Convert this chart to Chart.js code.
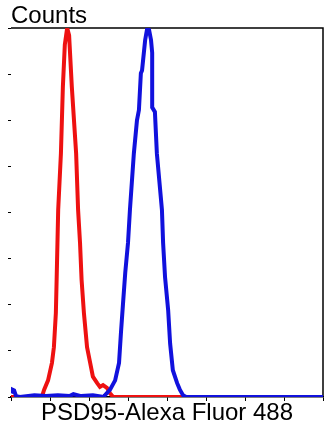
<!DOCTYPE html>
<html>
<head>
<meta charset="utf-8">
<script src="https://cdn.jsdelivr.net/npm/chart.js@4/dist/chart.umd.min.js"></script>
<style>
  html, body { margin: 0; padding: 0; background: #fff; }
  #wrap { width: 331px; height: 427px; }
</style>
</head>
<body>
<div id="wrap"><canvas id="histo"></canvas></div>
<script>
// isotype control (red) and PSD95 stained cells (blue)
const redX = [0, 0.79, 0.85, 0.95, 1.05, 1.10, 1.15, 1.17, 1.21, 1.28, 1.33, 1.38, 1.44, 1.49, 1.56, 1.67, 1.72, 1.77, 1.81, 1.87, 1.95, 2.03, 2.10, 2.21, 2.28, 2.36, 2.46, 2.54, 2.62, 8]
const redY = [0, 0, 8, 18, 37, 54, 91, 127, 203, 264, 336, 382, 400, 392, 336, 264, 203, 167, 127, 91, 54, 37, 22, 15, 11, 13, 10, 4, 0, 0]

const blueX = [0, 0.03, 0.08, 0.13, 0.23, 0.6, 0.9, 1.2, 1.5, 1.6, 1.8, 2.1, 2.38, 2.41, 2.54, 2.67, 2.77, 2.82, 2.87, 2.93, 3.0, 3.05, 3.15, 3.23, 3.28, 3.33, 3.36, 3.44, 3.49, 3.54, 3.59, 3.62, 3.62, 3.69, 3.74, 3.87, 3.90, 3.95, 4.03, 4.08, 4.15, 4.26, 4.33, 4.41, 4.49, 8]
const blueY = [4, 8, 7, 1, 0, 2, 1, 2, 1, 3, 1, 2, 0, 2, 8, 18, 37, 70, 100, 135, 167, 203, 264, 300, 311, 351, 354, 387, 399, 398, 387, 373, 314, 309, 264, 203, 167, 130, 94, 58, 29, 15, 8, 2, 0, 0]

const xTicks = [0, 1, 2, 3, 4, 5, 6, 7, 8]
const yTicks = [0, 50, 100, 150, 200, 250, 300, 350, 400]

const fontFamily = '"Liberation Sans", Arial, sans-serif'

function toPoints(xs, ys) {
  return xs.map((x, i) => ({ x: x, y: ys[i] }))
}

// top and right edges of the plot box
const frame = {
  id: 'frame',
  beforeDatasetsDraw(chart) {
    const { ctx, chartArea: a } = chart
    ctx.save()
    ctx.strokeStyle = '#000'
    ctx.lineWidth = 1.5
    ctx.beginPath()
    ctx.moveTo(a.left, a.top)
    ctx.lineTo(a.right, a.top)
    ctx.lineTo(a.right, a.bottom)
    ctx.stroke()
    ctx.restore()
  }
}

new Chart(document.getElementById('histo'), {
  type: 'line',
  data: {
    datasets: [{
      label: 'Isotype',
      data: toPoints(redX, redY),
      borderColor: '#ee1111',
      borderWidth: 4,
      order: 1
    }, {
      label: 'PSD95',
      data: toPoints(blueX, blueY),
      borderColor: '#1111dd',
      borderWidth: 4,
      order: 0
    }]
  },
  options: {
    responsive: true,
    maintainAspectRatio: false,
    animation: false,
    devicePixelRatio: 1,
    elements: { point: { radius: 0 }, line: { tension: 0 } },
    layout: { padding: { left: 0, right: 8, top: 0, bottom: 0 } },
    plugins: {
      legend: { display: false },
      tooltip: { enabled: false },
      title: {
        display: true,
        text: 'Counts',
        align: 'start',
        fullSize: false,
        color: '#000',
        font: { family: fontFamily, size: 24, weight: 'normal', lineHeight: 1 },
        padding: { top: 4, bottom: 0 }
      }
    },
    scales: {
      x: {
        type: 'linear',
        min: 0,
        max: 8,
        afterBuildTicks: s => { s.ticks = xTicks.map(v => ({ value: v })) },
        afterFit: s => { s.height = 30 },
        ticks: { display: false },
        grid: { drawOnChartArea: false, drawTicks: true, tickLength: 4, color: '#000' },
        border: { display: true, color: '#000', width: 1.5 },
        title: {
          display: true,
          text: 'PSD95-Alexa Fluor 488',
          color: '#000',
          font: { family: fontFamily, size: 24, weight: 'normal', lineHeight: 1 },
          padding: { top: 0, bottom: 2 }
        }
      },
      y: {
        min: 0,
        max: 400,
        afterBuildTicks: s => { s.ticks = yTicks.map(v => ({ value: v })) },
        afterFit: s => { s.width = 11 },
        ticks: { display: false },
        grid: { drawOnChartArea: false, drawTicks: true, tickLength: 3, color: '#000' },
        border: { display: false }
      }
    }
  },
  plugins: [frame]
})
</script>
</body>
</html>
